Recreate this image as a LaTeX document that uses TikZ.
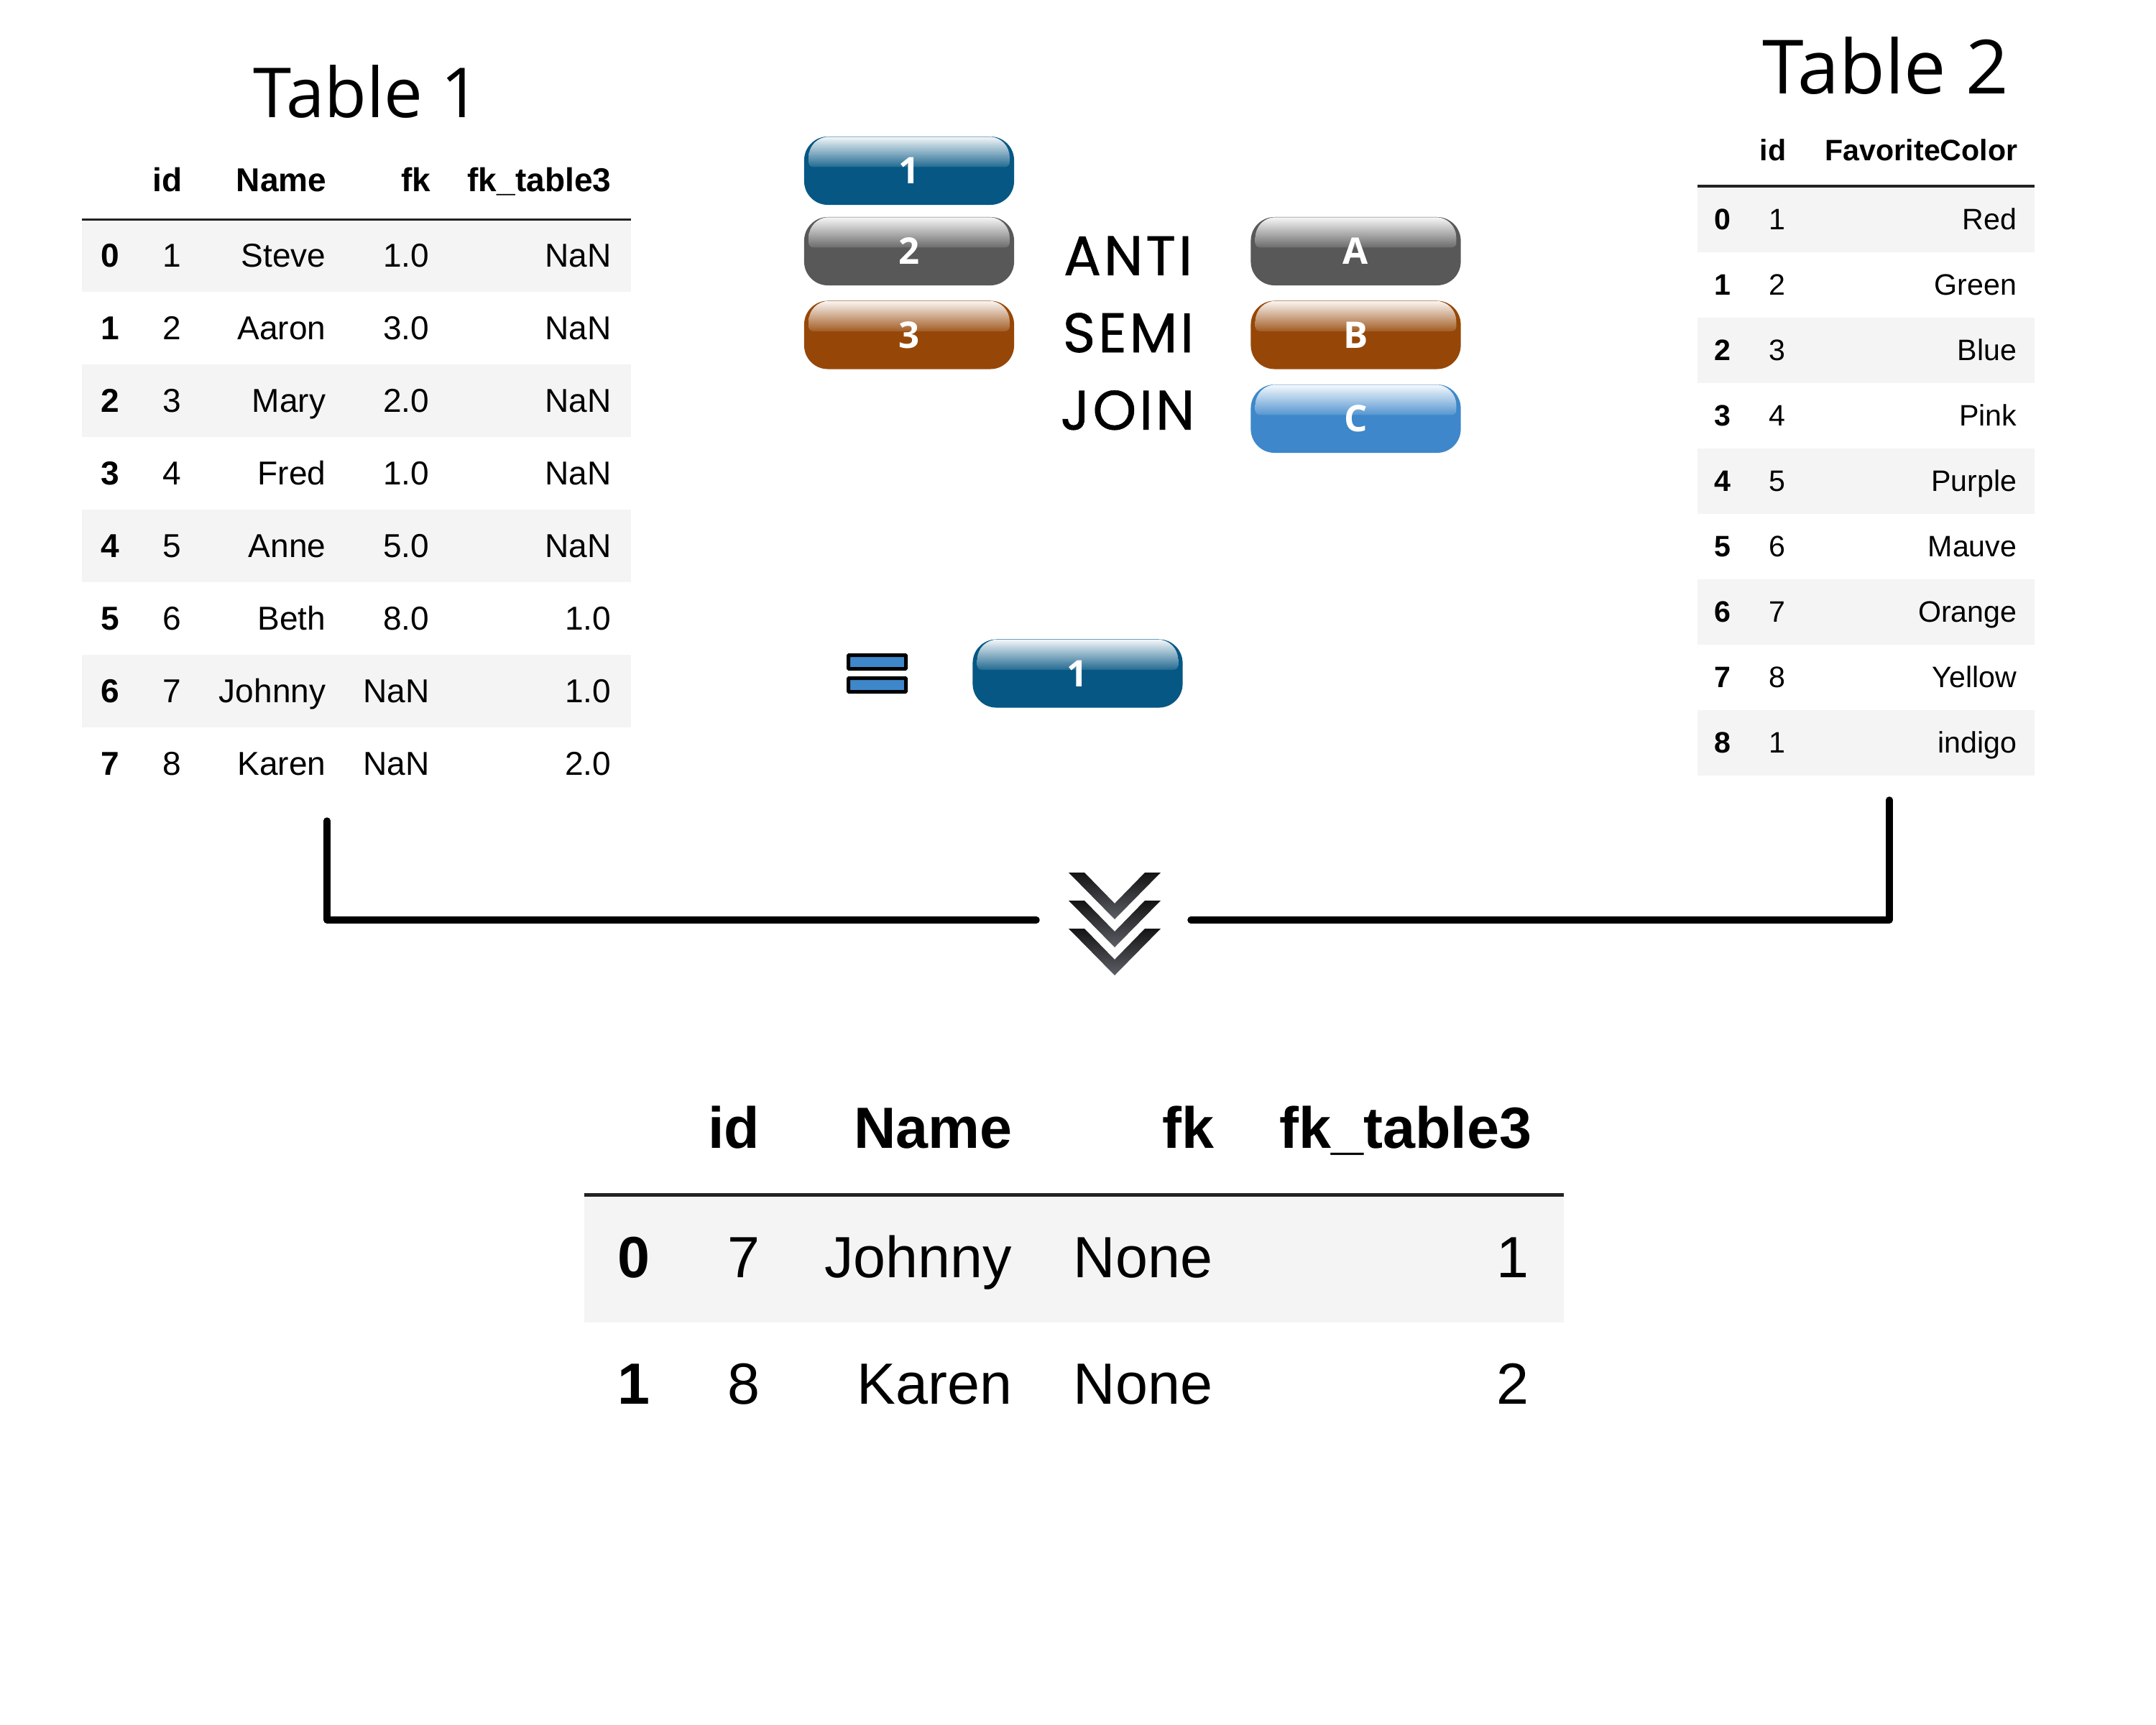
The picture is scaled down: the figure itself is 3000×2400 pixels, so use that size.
\documentclass[tikz,border=0pt]{standalone}
\usepackage{fontspec}
\setmainfont{Liberation Sans}
\newfontfamily\osans{Open Sans}
\newfontfamily\popm{Poppins}[FakeBold=0.8, LetterSpace=5]
\definecolor{bblue}{HTML}{065784}
\definecolor{bgray}{HTML}{585858}
\definecolor{bbrown}{HTML}{964707}
\definecolor{blight}{HTML}{3E87CA}
\definecolor{bandgray}{HTML}{F4F4F4}
\definecolor{rulegray}{HTML}{222222}
\definecolor{chevtop}{HTML}{141414}
\definecolor{chevbot}{HTML}{5C5F66}

\tikzset{
  btnbase/.style={rectangle, rounded corners=0.33cm, minimum width=2.92cm, minimum height=0.95cm, inner sep=0pt, draw=none},
  btnlabel/.style={font=\osans\bfseries\fontsize{14.5}{16}\selectfont, text=white, inner sep=0pt},
  titletxt/.style={anchor=base, inner sep=0pt},
  jtxt/.style={font=\popm\fontsize{22}{24}\selectfont, anchor=base, inner sep=0pt},
  t1/.style={font=\fontsize{13.1}{15}\selectfont, inner sep=0pt, anchor=base east},
  t1b/.style={t1, font=\fontsize{13.1}{15}\selectfont\bfseries},
  t2/.style={font=\fontsize{11.7}{14}\selectfont, inner sep=0pt, anchor=base east},
  t2b/.style={t2, font=\fontsize{11.7}{14}\selectfont\bfseries},
  t3/.style={font=\fontsize{23}{26}\selectfont, inner sep=0pt, anchor=base east},
  t3b/.style={t3, font=\fontsize{23}{26}\selectfont\bfseries},
  conn/.style={line width=0.095cm, line cap=round, line join=round},
  eqbar/.style={draw=black, fill=blight, line width=0.05cm, rounded corners=0.01cm},
  chev/.style={top color=chevtop, bottom color=chevbot}
}

\newcommand\glossbtn[5]{%
  \node[btnbase, fill=#4] (#1) at (#2,#3) {};
  \shade[top color=#4!5!white, bottom color=#4!88!white]
    ([xshift=0.07cm,yshift=-0.43cm]#1.north west)
    [rounded corners=0.28cm] -- ([xshift=0.07cm,yshift=-0.01cm]#1.north west)
    -- ([xshift=-0.07cm,yshift=-0.01cm]#1.north east)
    [rounded corners=0.06cm] -- ([xshift=-0.07cm,yshift=-0.43cm]#1.north east) -- cycle;
  \node[btnlabel] (#1-label) at (#1) {#5};
}

\begin{document}
\begin{tikzpicture}[x=0.01cm, y=-0.01cm]
\useasboundingbox (0,0) rectangle (3000,2400);
\fill[white] (0,0) rectangle (3000,2400);

% ---------------- Table 1 ----------------
\node[titletxt, font=\osans\fontsize{27.3}{30}\selectfont] (t1title) at (510.5,163) {Table 1};
\foreach \i in {0,2,4,6} \fill[bandgray] (114,{304.5+101*\i}) rectangle (878,{405.5+101*\i});
\draw[rulegray, line width=0.03cm] (114,305) -- (878,305);
\node[t1b] (t1-h-id) at (254,266) {id};
\node[t1b] (t1-h-name) at (455,266) {Name};
\node[t1b] (t1-h-fk) at (600,266) {fk};
\node[t1b] (t1-h-fk3) at (851,266) {fk\_table3};
\foreach \i/\a/\b/\c/\d in {0/1/Steve/1.0/NaN, 1/2/Aaron/3.0/NaN, 2/3/Mary/2.0/NaN, 3/4/Fred/1.0/NaN, 4/5/Anne/5.0/NaN, 5/6/Beth/8.0/1.0, 6/7/Johnny/NaN/1.0, 7/8/Karen/NaN/2.0} {
  \node[t1b, anchor=base west] (t1-\i-idx) at (140,{371+101*\i}) {\i};
  \node[t1] (t1-\i-id) at (253,{371+101*\i}) {\a};
  \node[t1] (t1-\i-name) at (454,{371+101*\i}) {\b};
  \node[t1] (t1-\i-fk) at (598,{371+101*\i}) {\c};
  \node[t1] (t1-\i-fk3) at (851,{371+101*\i}) {\d};
}

% ---------------- Table 2 ----------------
\node[titletxt, font=\osans\fontsize{29.6}{32}\selectfont] (t2title) at (2623.5,130) {Table 2};
\foreach \i in {0,2,4,6,8} \fill[bandgray] (2362,{259.5+91*\i}) rectangle (2831,{350.5+91*\i});
\draw[rulegray, line width=0.03cm] (2362,259) -- (2831,259);
\node[t2b] (t2-h-id) at (2486,224) {id};
\node[t2b] (t2-h-col) at (2808,224) {FavoriteColor};
\foreach \i/\a/\b in {0/1/Red, 1/2/Green, 2/3/Blue, 3/4/Pink, 4/5/Purple, 5/6/Mauve, 6/7/Orange, 7/8/Yellow, 8/1/indigo} {
  \node[t2b, anchor=base west] (t2-\i-idx) at (2385,{319.5+91*\i}) {\i};
  \node[t2] (t2-\i-id) at (2485,{319.5+91*\i}) {\a};
  \node[t2] (t2-\i-col) at (2807,{319.5+91*\i}) {\b};
}

% ---------------- Buttons and labels ----------------
\glossbtn{b1}{1265}{237.5}{bblue}{1}
\glossbtn{b2}{1265}{349.5}{bgray}{2}
\glossbtn{b3}{1265}{466}{bbrown}{3}
\glossbtn{bA}{1886.5}{349.5}{bgray}{A}
\glossbtn{bB}{1886.5}{466}{bbrown}{B}
\glossbtn{bC}{1886.5}{582.5}{blight}{C}
\node[jtxt] (anti) at (1569.5,382.8) {ANTI};
\node[jtxt] (semi) at (1570,490) {SEMI};
\node[jtxt] (join) at (1569,597.7) {JOIN};

% equals sign and result button
\draw[eqbar] (1180.5,911.5) rectangle (1260.5,930.5);
\draw[eqbar] (1180.5,943.5) rectangle (1260.5,962.5);
\glossbtn{bR}{1499.5}{937}{bblue}{1}

% ---------------- Connectors and chevrons ----------------
\coordinate (t1out) at (455,1142);
\coordinate (chevL) at (1442,1280);
\coordinate (t2out) at (2629,1113);
\coordinate (chevR) at (1657,1280);
\draw[conn] (t1out) |- (chevL);
\draw[conn] (t2out) |- (chevR);
\foreach \k in {0,1,2} {
  \shade[chev] (1487,{1214+39*\k}) -- (1509,{1214+39*\k}) -- (1551,{1257+39*\k}) -- (1593,{1214+39*\k}) -- (1615,{1214+39*\k}) -- (1551,{1279+39*\k}) -- cycle;
}

% ---------------- Result table ----------------
\fill[bandgray] (813,1665) rectangle (2176,1840);
\draw[rulegray, line width=0.05cm] (813,1662) -- (2176,1662);
\node[t3b] (r-h-id) at (1058,1597) {id};
\node[t3b] (r-h-name) at (1409,1597) {Name};
\node[t3b] (r-h-fk) at (1690,1597) {fk};
\node[t3b] (r-h-fk3) at (2132,1597) {fk\_table3};
\foreach \i/\a/\b/\c/\d/\yb in {0/7/Johnny/None/1/1777, 1/8/Karen/None/2/1953} {
  \node[t3b, anchor=base west] (r-\i-idx) at (859,\yb) {\i};
  \node[t3] (r-\i-id) at (1058,\yb) {\a};
  \node[t3] (r-\i-name) at (1409,\yb) {\b};
  \node[t3] (r-\i-fk) at (1688,\yb) {\c};
  \node[t3] (r-\i-fk3) at (2128,\yb) {\d};
}
\end{tikzpicture}
\end{document}
